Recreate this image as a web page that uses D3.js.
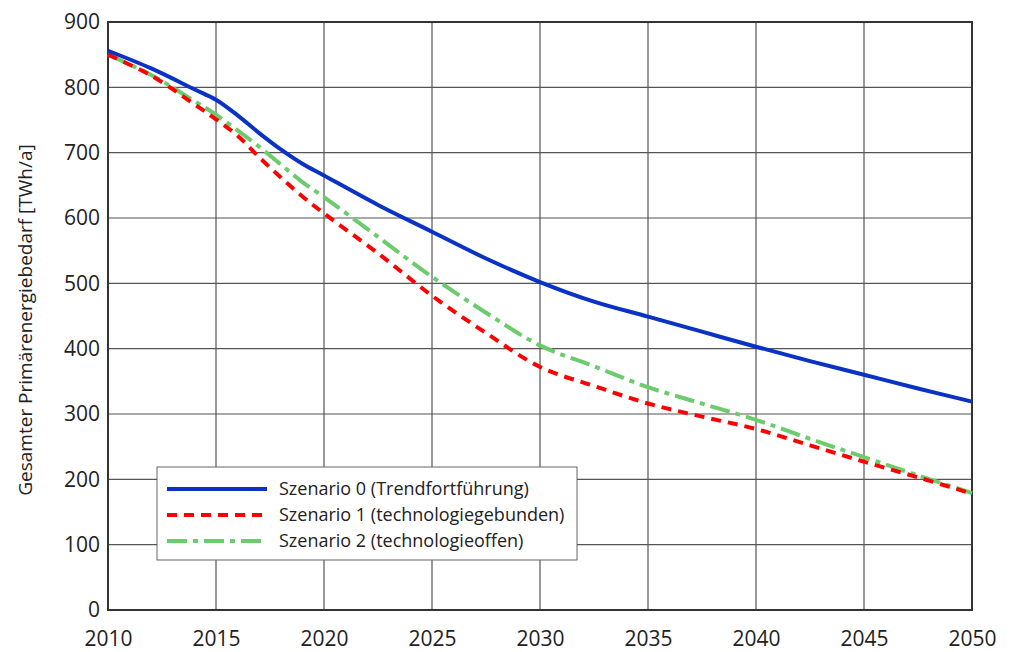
<!DOCTYPE html>
<html><head><meta charset="utf-8">
<script src="https://cdn.jsdelivr.net/npm/d3@7"></script>
<style>body{margin:0;background:#fff}svg{display:block;font-family:"Open Sans",sans-serif}</style>
</head><body><svg id="c" width="1013" height="652"></svg>
<script>
const years     = [2010, 2012, 2014, 2015, 2016, 2017, 2018, 2019, 2020, 2022.5, 2025, 2027.5, 2030, 2032.5, 2035, 2037.5, 2040, 2042.5, 2045, 2047.5, 2050];
const szenario0 = [856, 829, 797, 781, 757, 730, 705, 683, 665, 620, 579, 538, 502, 472, 449, 426, 403, 381, 360, 339, 319];
const szenario1 = [850, 818, 774, 751, 726, 693, 662, 633, 607, 546, 481, 424, 372, 343, 316, 296, 277, 252, 227, 203, 178];
const szenario2 = [850, 819, 779, 758, 734, 709, 682, 655, 632, 571, 510, 455, 405, 373, 341, 316, 291, 262, 234, 206, 179];
const xTicks = [2010, 2015, 2020, 2025, 2030, 2035, 2040, 2045, 2050];
const yTicks = [0, 100, 200, 300, 400, 500, 600, 700, 800, 900];
const seriesNames = ["Szenario 0 (Trendfortführung)", "Szenario 1 (technologiegebunden)", "Szenario 2 (technologieoffen)"];
const yTitle = "Gesamter Primärenergiebedarf [TWh/a]";

const svg = d3.select("#c");
const m = {l:108, t:22, r:41, b:42};
const W = 1013, H = 652;
const x = d3.scaleLinear().domain([2010, 2050]).range([m.l, W - m.r]);
const y = d3.scaleLinear().domain([0, 900]).range([H - m.b, m.t]);

// grid
svg.append("g").selectAll("line").data(xTicks).join("line")
  .attr("x1", d => x(d)).attr("x2", d => x(d)).attr("y1", y(0)).attr("y2", y(900))
  .attr("stroke", "#555").attr("stroke-width", 1.2);
svg.append("g").selectAll("line").data(yTicks).join("line")
  .attr("x1", x(2010)).attr("x2", x(2050)).attr("y1", d => y(d)).attr("y2", d => y(d))
  .attr("stroke", "#555").attr("stroke-width", 1.2);

// axes
const xa = svg.append("g").attr("transform", `translate(0,${y(0)})`)
  .call(d3.axisBottom(x).tickValues(xTicks).tickFormat(d3.format("d")).tickSize(0).tickPadding(21));
const ya = svg.append("g").attr("transform", `translate(${x(2010)},0)`)
  .call(d3.axisLeft(y).tickValues(yTicks).tickSize(0).tickPadding(8));
[xa, ya].forEach(a => {
  a.select(".domain").remove();
  a.selectAll("text").attr("font-size", 21).attr("fill", "#222").attr("font-family", '"Open Sans",sans-serif');
});

// frame
svg.append("rect").attr("x", x(2010)).attr("y", y(900)).attr("width", x(2050) - x(2010)).attr("height", y(0) - y(900))
  .attr("fill", "none").attr("stroke", "#333").attr("stroke-width", 2);

// lines
const line = d3.line().x((d, i) => x(years[i])).y(d => y(d)).curve(d3.curveCatmullRom.alpha(0.5));
const styles = [
  {data: szenario0, color: "#0a32c4", dash: null},
  {data: szenario1, color: "#ff0000", dash: "10,7"},
  {data: szenario2, color: "#6ccb6c", dash: "20,6,5,6"}
];
[styles[2], styles[1], styles[0]].forEach(s => {
  svg.append("path").attr("d", line(s.data)).attr("fill", "none")
    .attr("stroke", s.color).attr("stroke-width", 4).attr("stroke-dasharray", s.dash);
});

// legend
const lg = svg.append("g");
lg.append("rect").attr("x", 157).attr("y", 467).attr("width", 420).attr("height", 93)
  .attr("fill", "#fff").attr("stroke", "#666").attr("stroke-width", 1);
styles.forEach((s, i) => {
  const yy = 489 + i * 26;
  lg.append("line").attr("x1", 167).attr("x2", 267).attr("y1", yy).attr("y2", yy)
    .attr("stroke", s.color).attr("stroke-width", 4).attr("stroke-dasharray", s.dash);
  lg.append("text").attr("x", 279).attr("y", yy).attr("dy", "0.35em")
    .attr("font-size", 18).attr("fill", "#222").text(seriesNames[i]);
});

// y title
svg.append("text").attr("transform", `translate(32,320) rotate(-90)`).attr("text-anchor", "middle")
  .attr("font-size", 19).attr("fill", "#222").text(yTitle);
</script></body></html>
